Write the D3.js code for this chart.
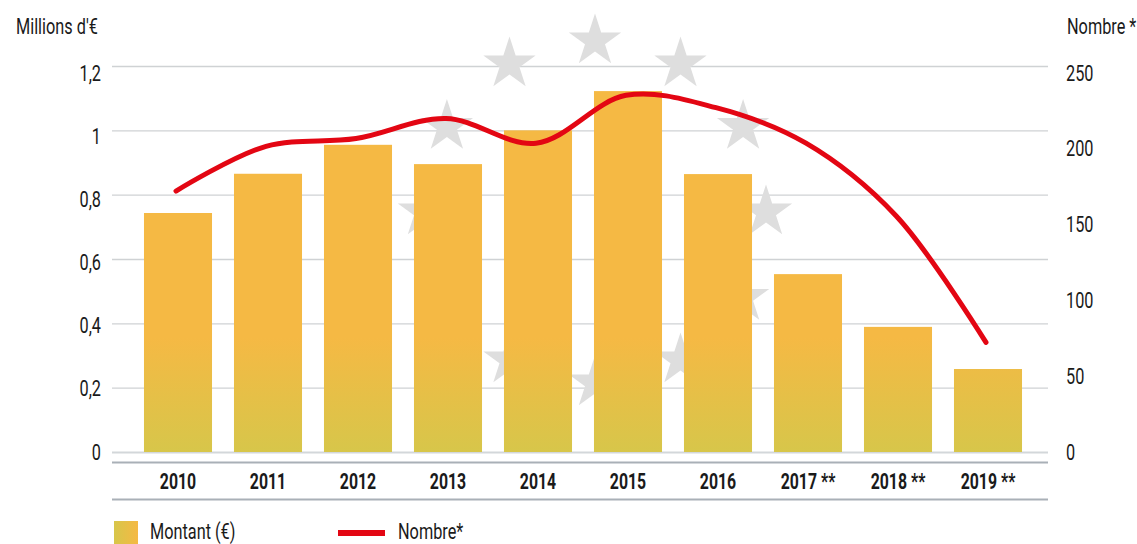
<!DOCTYPE html>
<html><head><meta charset="utf-8">
<script src="https://cdn.jsdelivr.net/npm/d3@7"></script>
<style>
html,body{margin:0;padding:0;background:#fff;overflow:hidden}
svg{display:block}
text{font-family:Roboto,"DejaVu Sans",sans-serif;fill:#1a1a1a}
</style></head><body>
<script>
const years = ["2010","2011","2012","2013","2014","2015","2016","2017 **","2018 **","2019 **"];
const montant = [0.743,0.865,0.955,0.895,1.0,1.122,0.864,0.553,0.389,0.258];
const nombre = [169,198,203,216,200,231,223,200,153,71];
const leftTicks = [0,0.2,0.4,0.6,0.8,1,1.2];
const rightTicks = [0,50,100,150,200,250];
const leftTitle = "Millions d'€";
const rightTitle = "Nombre *";
const legendLabels = ["Montant (€)","Nombre*"];

const W=1137,H=544;
const SX=0.74, FS=22;
const svg=d3.select("body").append("svg").attr("width",W).attr("height",H);
const defs=svg.append("defs");

const x=d3.scaleBand().domain(years).range([133,1033]).paddingInner(0.244).paddingOuter(0.122);
const yL=d3.scaleLinear().domain([0,1.2]).range([452,66]);
const yR=d3.scaleLinear().domain([0,250]).range([452,66]);
// label placement scales (labels sit on a slightly tighter spacing than gridlines)
const yLlab=d3.scaleLinear().domain([0,1.2]).range([451,72]);
const yRlab=d3.scaleLinear().domain([0,250]).range([451,72]);

function condense(sel,sx){
  sel.each(function(){
    const t=d3.select(this);
    const tx=+t.attr("x")||0, ty=+t.attr("y")||0;
    t.attr("x",0).attr("y",0).attr("transform",`translate(${tx},${ty}) scale(${sx},1)`);
  });
}

// gradients
const g1=defs.append("linearGradient").attr("id","barGrad").attr("gradientUnits","userSpaceOnUse")
  .attr("x1",0).attr("x2",0).attr("y1",yL(0)).attr("y2",338);
g1.append("stop").attr("offset","0%").attr("stop-color","#d7c64a");
g1.append("stop").attr("offset","100%").attr("stop-color","#f5b944");
const g2=defs.append("linearGradient").attr("id","legGrad").attr("x1","0%").attr("x2","100%").attr("y1","0%").attr("y2","0%");
g2.append("stop").attr("offset","0%").attr("stop-color","#d7c64a");
g2.append("stop").attr("offset","100%").attr("stop-color","#f5b944");

// gridlines
const fmt=d=>String(d).replace(".",",");
svg.append("g").selectAll("line").data(leftTicks.filter(d=>d>0)).join("line")
  .attr("x1",112).attr("x2",1048).attr("y1",d=>yL(d)+0.5).attr("y2",d=>yL(d)+0.5)
  .attr("stroke","#cfd2d4").attr("stroke-width",1.3);

// EU stars
const starPath=(R,r)=>{const pts=[];for(let i=0;i<10;i++){const a=-Math.PI/2+i*Math.PI/5;const rr=i%2?r:R;pts.push([rr*Math.cos(a),rr*Math.sin(a)]);}return "M"+pts.map(p=>p.join(",")).join("L")+"Z";};
const cx=595,cy=212,cr=171;
svg.append("g").selectAll("path").data(d3.range(12)).join("path")
  .attr("d",starPath(27.5,10.5))
  .attr("transform",i=>`translate(${cx+cr*Math.sin(i*Math.PI/6)},${cy-cr*Math.cos(i*Math.PI/6)})`)
  .attr("fill","#dedede");

// zero line & separator lines
svg.append("line").attr("x1",112).attr("x2",1048).attr("y1",yL(0)+0.5).attr("y2",yL(0)+0.5).attr("stroke","#d3d7da").attr("stroke-width",2);
svg.append("line").attr("x1",112).attr("x2",1048).attr("y1",462.5).attr("y2",462.5).attr("stroke","#a9b0b7").attr("stroke-width",2);
svg.append("line").attr("x1",112).attr("x2",1048).attr("y1",499.5).attr("y2",499.5).attr("stroke","#a9b0b7").attr("stroke-width",2);

// bars
svg.append("g").selectAll("rect").data(montant).join("rect")
  .attr("x",(d,i)=>x(years[i])).attr("width",x.bandwidth())
  .attr("y",d=>yL(d)).attr("height",d=>yL(0)-yL(d))
  .attr("fill","url(#barGrad)");

// line
const line=d3.line().x((d,i)=>x(years[i])+x.bandwidth()/2-2).y(d=>yR(d)).curve(d3.curveCatmullRom.alpha(0.5));
svg.append("path").datum(nombre).attr("d",line).attr("fill","none")
  .attr("stroke","#e30613").attr("stroke-width",5).attr("stroke-linecap","round");

// left axis
const axL=svg.append("g").attr("transform","translate(101,0)").call(d3.axisLeft(yLlab).tickValues(leftTicks).tickFormat(fmt).tickSize(0).tickPadding(0));
axL.select(".domain").remove();
axL.selectAll("text").attr("font-size",FS).attr("font-family",null).attr("dy",null).attr("y",8).call(condense,SX);
// right axis
const axR=svg.append("g").attr("transform","translate(1066,0)").call(d3.axisRight(yRlab).tickValues(rightTicks).tickSize(0).tickPadding(0));
axR.select(".domain").remove();
axR.selectAll("text").attr("font-size",FS).attr("font-family",null).attr("dy",null).attr("y",8).call(condense,SX);
// bottom axis
const axB=svg.append("g").attr("transform","translate(0,463)").call(d3.axisBottom(x).tickSize(0).tickPadding(0));
axB.select(".domain").remove();
axB.selectAll("text").attr("font-size",FS).attr("font-weight","bold").attr("font-family",null).attr("dy",null).attr("y",26).call(condense,0.72);

// titles
svg.append("text").attr("x",16).attr("y",34).attr("font-size",FS).text(leftTitle).call(condense,SX);
svg.append("text").attr("x",1067).attr("y",34).attr("font-size",FS).text(rightTitle).call(condense,SX);

// legend
svg.append("rect").attr("x",114).attr("y",521).attr("width",24).attr("height",26).attr("fill","url(#legGrad)");
svg.append("text").attr("x",150).attr("y",538.5).attr("font-size",FS).text(legendLabels[0]).call(condense,SX);
svg.append("line").attr("x1",338).attr("x2",385).attr("y1",533).attr("y2",533).attr("stroke","#e30613").attr("stroke-width",6);
svg.append("text").attr("x",398).attr("y",538.5).attr("font-size",FS).text(legendLabels[1]).call(condense,SX);
</script>
</body></html>
